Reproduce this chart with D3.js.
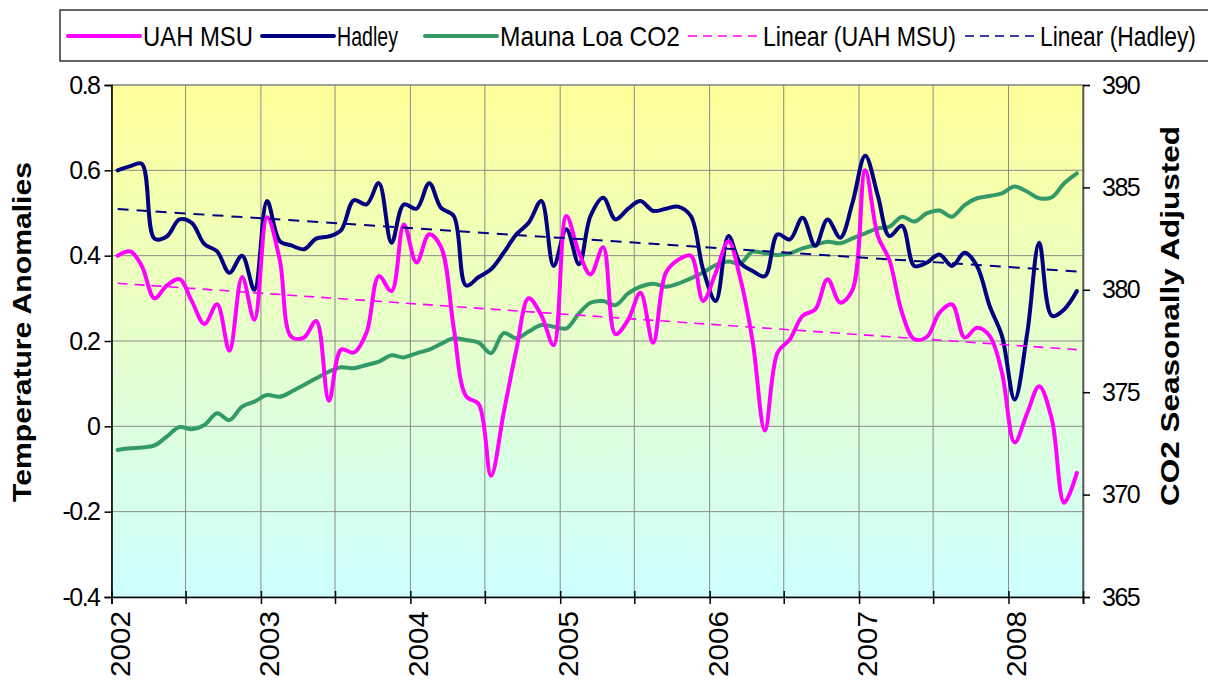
<!DOCTYPE html>
<html>
<head>
<meta charset="utf-8">
<script src="https://cdn.jsdelivr.net/npm/d3@7"></script>
<style>
  body { margin: 0; background: #fff; }
  svg { display: block; font-family: Arial, "Liberation Sans", sans-serif; }
</style>
</head>
<body>
<div class="svg-container"></div>
<script>
// monthly series, Jan 2002 .. Jun 2008
const startMonth = new Date(2002, 0, 1);
const monthCount = 78;

const uah = [
  0.40, 0.41, 0.376, 0.30, 0.33, 0.345, 0.294, 0.24, 0.286, 0.177, 0.35, 0.25,
  0.49, 0.39, 0.21, 0.208, 0.247, 0.06, 0.18, 0.173, 0.22, 0.352, 0.317, 0.473,
  0.384, 0.45, 0.42, 0.23, 0.071, 0.052, -0.116, 0.032, 0.18, 0.30, 0.26, 0.19,
  0.493, 0.407, 0.356, 0.42, 0.216, 0.25, 0.313, 0.196, 0.36, 0.39, 0.40, 0.294,
  0.36, 0.434, 0.35, 0.20, -0.01, 0.173, 0.204, 0.259, 0.274, 0.345, 0.29, 0.32,
  0.60, 0.446, 0.39, 0.266, 0.204, 0.21, 0.266, 0.286, 0.208, 0.231, 0.212, 0.126,
  -0.038, 0.032, 0.094, 0.016, -0.179, -0.109
];

const hadley = [
  0.60, 0.61, 0.615, 0.44, 0.445, 0.485, 0.477, 0.427, 0.41, 0.36, 0.40, 0.32,
  0.528, 0.434, 0.424, 0.415, 0.44, 0.445, 0.46, 0.53, 0.52, 0.57, 0.43, 0.52,
  0.51, 0.57, 0.512, 0.493, 0.33, 0.35, 0.368, 0.407, 0.45, 0.477, 0.528, 0.376,
  0.462, 0.38, 0.493, 0.536, 0.485, 0.51, 0.528, 0.505, 0.51, 0.515, 0.493, 0.368,
  0.294, 0.446, 0.384, 0.364, 0.352, 0.45, 0.438, 0.489, 0.423, 0.485, 0.442, 0.524,
  0.634, 0.54, 0.446, 0.47, 0.376, 0.384, 0.403, 0.376, 0.407, 0.376, 0.282, 0.212,
  0.063, 0.22, 0.43, 0.259, 0.274, 0.317
];

const co2 = [
  372.18, 372.26, 372.3, 372.4, 372.83, 373.3, 373.19, 373.4, 373.97, 373.64, 374.3, 374.54,
  374.86, 374.78, 375.02, 375.35, 375.68, 376.0, 376.22, 376.17, 376.33, 376.49, 376.8, 376.7,
  376.9, 377.08, 377.36, 377.63, 377.55, 377.42, 376.9, 377.88, 377.63, 377.96, 378.28, 378.2,
  378.12, 378.85, 379.37, 379.45, 379.25, 379.82, 380.15, 380.3, 380.15, 380.3, 380.56, 380.84,
  381.21, 381.38, 381.28, 381.86, 381.78, 381.7, 381.78, 382.02, 382.19, 382.35, 382.27, 382.51,
  382.76, 383.0, 383.08, 383.57, 383.33, 383.74, 383.87, 383.57, 384.14, 384.47, 384.58, 384.71,
  385.04, 384.79, 384.47, 384.52, 385.2, 385.69
];

const leftTicks = [-0.4, -0.2, 0, 0.2, 0.4, 0.6, 0.8];
const rightTicks = [365, 370, 375, 380, 385, 390];
const legendNames = ['UAH MSU', 'Hadley', 'Mauna Loa CO2', 'Linear (UAH MSU)', 'Linear (Hadley)'];

// layout
const W = 1208, H = 686;
const plot = { left: 111.5, right: 1083, top: 85, bottom: 597 };
const pink = '#ff00ff', navy = '#000080', green = '#339966';

const svg = d3.select('.svg-container')
  .append('svg')
  .attr('width', W)
  .attr('height', H);

// background gradient
const defs = svg.append('defs');
const grad = defs.append('linearGradient')
  .attr('id', 'bg')
  .attr('x1', 0).attr('y1', 0).attr('x2', 0).attr('y2', 1);
grad.append('stop').attr('offset', '0%').attr('stop-color', '#ffff99');
grad.append('stop').attr('offset', '100%').attr('stop-color', '#ccffff');

// scales
const dates = d3.range(monthCount).map((i) => new Date(2002, i, 16));
const x = d3.scaleTime()
  .domain([startMonth, d3.timeMonth.offset(startMonth, monthCount)])
  .range([plot.left, plot.right]);
const yL = d3.scaleLinear().domain([-0.4, 0.8]).range([plot.bottom, plot.top]);
const yR = d3.scaleLinear().domain([365, 390]).range([plot.bottom, plot.top]);

svg.append('rect')
  .attr('x', plot.left).attr('y', plot.top)
  .attr('width', plot.right - plot.left)
  .attr('height', plot.bottom - plot.top)
  .attr('fill', 'url(#bg)');

// grid
const halfYears = d3.timeMonth.every(6).range(startMonth, d3.timeMonth.offset(startMonth, monthCount + 1));
svg.append('g')
  .selectAll('line')
  .data(halfYears)
  .enter()
  .append('line')
  .attr('x1', (d) => x(d)).attr('x2', (d) => x(d))
  .attr('y1', plot.top).attr('y2', plot.bottom)
  .attr('stroke', '#8a8a8a').attr('stroke-width', 1);
svg.append('g')
  .selectAll('line')
  .data(leftTicks)
  .enter()
  .append('line')
  .attr('x1', plot.left).attr('x2', plot.right)
  .attr('y1', (d) => yL(d)).attr('y2', (d) => yL(d))
  .attr('stroke', '#8a8a8a').attr('stroke-width', 1);

// trend lines (least squares on month index)
function trend(values) {
  const n = values.length;
  const mx = d3.mean(d3.range(n));
  const my = d3.mean(values);
  let sxy = 0, sxx = 0;
  values.forEach((v, i) => { sxy += (i - mx) * (v - my); sxx += (i - mx) * (i - mx); });
  const b = sxy / sxx;
  const a = my - b * mx;
  return [0, n - 1].map((i) => ({ date: dates[i], value: a + b * i }));
}

const lineL = d3.line().x((d) => x(d.date)).y((d) => yL(d.value));
const smoothL = d3.line().x((d) => x(d.date)).y((d) => yL(d.value)).curve(d3.curveCatmullRom.alpha(0.5));
const smoothR = d3.line().x((d) => x(d.date)).y((d) => yR(d.value)).curve(d3.curveCatmullRom.alpha(0.5));
const toPoints = (arr) => arr.map((v, i) => ({ date: dates[i], value: v }));

svg.append('path')
  .datum(toPoints(co2))
  .attr('d', smoothR)
  .attr('fill', 'none').attr('stroke', green).attr('stroke-width', 4)
  .attr('stroke-linejoin', 'round').attr('stroke-linecap', 'round');

svg.append('path')
  .datum(toPoints(hadley))
  .attr('d', smoothL)
  .attr('fill', 'none').attr('stroke', navy).attr('stroke-width', 4)
  .attr('stroke-linejoin', 'round').attr('stroke-linecap', 'round');

svg.append('path')
  .datum(toPoints(uah))
  .attr('d', smoothL)
  .attr('fill', 'none').attr('stroke', pink).attr('stroke-width', 4)
  .attr('stroke-linejoin', 'round').attr('stroke-linecap', 'round');

svg.append('path')
  .datum(trend(uah))
  .attr('d', lineL)
  .attr('fill', 'none').attr('stroke', pink).attr('stroke-width', 1.6)
  .attr('stroke-dasharray', '10,7');

svg.append('path')
  .datum(trend(hadley))
  .attr('d', lineL)
  .attr('fill', 'none').attr('stroke', navy).attr('stroke-width', 2)
  .attr('stroke-dasharray', '11,8');

// plot border (top/right)
svg.append('path')
  .attr('d', `M${plot.left},${plot.top}H${plot.right}V${plot.bottom}`)
  .attr('fill', 'none').attr('stroke', '#808080').attr('stroke-width', 1.2);

// axes
const fmt = (d) => (d === 0 ? '0' : String(+d.toFixed(1)));
const leftAxis = svg.append('g')
  .attr('transform', `translate(${plot.left},0)`)
  .call(d3.axisLeft(yL).tickValues(leftTicks).tickFormat(fmt).tickSize(7).tickPadding(5));
const rightAxis = svg.append('g')
  .attr('transform', `translate(${plot.right},0)`)
  .call(d3.axisRight(yR).tickValues(rightTicks).tickSize(7).tickPadding(12));
const bottomAxis = svg.append('g')
  .attr('transform', `translate(0,${plot.bottom})`)
  .call(d3.axisBottom(x).tickValues(halfYears).tickSize(7).tickFormat(() => ''));

[leftAxis, rightAxis, bottomAxis].forEach((g) => {
  g.selectAll('.domain').attr('stroke', '#000').attr('stroke-width', 1.6);
  g.selectAll('.tick line').attr('stroke', '#000').attr('stroke-width', 1.5);
  g.selectAll('.tick text')
    .attr('fill', '#000')
    .style('font-size', '25px')
    .style('letter-spacing', '-1.5px');
});
rightAxis.select('.domain').attr('stroke', '#555');
// cross ticks on bottom axis
bottomAxis.selectAll('.tick line').attr('y1', -6).attr('y2', 7);

// year labels, rotated
const years = halfYears.filter((d) => d.getMonth() === 0);
svg.append('g')
  .selectAll('text')
  .data(years)
  .enter()
  .append('text')
  .attr('transform', (d) => `translate(${x(d) + 18},${plot.bottom + 14}) rotate(-90)`)
  .attr('text-anchor', 'end')
  .attr('textLength', 66)
  .attr('lengthAdjust', 'spacingAndGlyphs')
  .style('font-size', '27px')
  .attr('fill', '#000')
  .text((d) => d3.timeFormat('%Y')(d));

// axis titles
svg.append('text')
  .attr('transform', 'translate(31,332) rotate(-90)')
  .attr('text-anchor', 'middle')
  .attr('textLength', 340)
  .attr('lengthAdjust', 'spacingAndGlyphs')
  .style('font-size', '25px').style('font-weight', 'bold')
  .text('Temperature Anomalies');
svg.append('text')
  .attr('transform', 'translate(1179,316) rotate(-90)')
  .attr('text-anchor', 'middle')
  .attr('textLength', 380)
  .attr('lengthAdjust', 'spacingAndGlyphs')
  .style('font-size', '25px').style('font-weight', 'bold')
  .text('CO2 Seasonally Adjusted');

// legend (box runs off the right edge, as in the source)
const legend = svg.append('g');
legend.append('path')
  .attr('d', `M${W},10H60V61H${W}`)
  .attr('fill', '#fff').attr('stroke', '#333').attr('stroke-width', 1.5);
const legendStyle = [
  { color: pink, width: 4, dash: null },
  { color: navy, width: 4, dash: null },
  { color: green, width: 4, dash: null },
  { color: pink, width: 1.5, dash: '9,6' },
  { color: navy, width: 1.5, dash: '9,6' }
];
const legendX = [68, 262, 425, 688, 965];
const legendTextW = [110, 61, 180, 193, 156];
legendNames.forEach((name, i) => {
  const s = legendStyle[i];
  legend.append('line')
    .attr('x1', legendX[i]).attr('x2', legendX[i] + 72)
    .attr('y1', 36).attr('y2', 36)
    .attr('stroke', s.color).attr('stroke-width', s.width)
    .attr('stroke-linecap', s.dash ? 'butt' : 'round')
    .attr('stroke-dasharray', s.dash);
  const t = legend.append('text')
    .style('font-size', '27px')
    .text(name);
  // squeeze the text horizontally to the narrow look of the source
  const natural = t.node().getComputedTextLength();
  t.attr('transform', `translate(${legendX[i] + 75},46) scale(${legendTextW[i] / natural},1)`);
});
</script>
</body>
</html>
